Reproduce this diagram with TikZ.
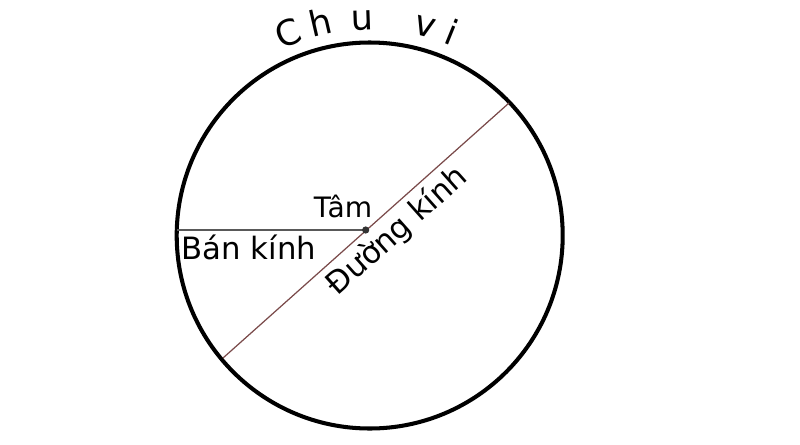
\documentclass[tikz,border=0pt]{standalone}
\usepackage{fontspec}
\setmainfont{DejaVu Sans}
\usetikzlibrary{calc}
\definecolor{duongkinh}{RGB}{122,74,74}
\tikzset{chu/.style={font=\fontsize{17.5}{20}\selectfont, anchor=base, inner sep=0pt},
  chuvi/.style={font=\fontsize{20}{24}\selectfont, anchor=base, inner sep=0pt}}

\begin{document}
\begin{tikzpicture}[x=0.02cm,y=0.02cm]
  \useasboundingbox (0,0) rectangle (800,444);

  \coordinate (O) at (369.7,208.5);
  \coordinate (tam) at (365.7,214);
  \coordinate (trai) at (176.8,214);
  \coordinate (duoi) at (223,86);
  \coordinate (tren) at (509,341);

  \draw [line width=2.3pt] (O) circle (193);

  \draw [black!65, line width=0.7pt] (trai) -- (tam);
  \draw [duongkinh, line width=0.7pt] (duoi) -- (tren);
  \fill [black!80] (tam) circle (3.6);

  \node [chu, font=\fontsize{16}{19}\selectfont] (tamlabel) at (343,227) {Tâm};
  \node [chu] (bankinh) at (249,185) {Bán kính};
  \node [chu, rotate=41.7] (duongkinhlabel) at (403.5,206) {Đường kính};

  % chu vi
  \foreach \ch/\a in {C/112, h/103, u/92, v/75, i/68}
    \node [chuvi, rotate=\a-90] at ($(O)+(\a:206)$) {\ch};

\end{tikzpicture}
\end{document}
